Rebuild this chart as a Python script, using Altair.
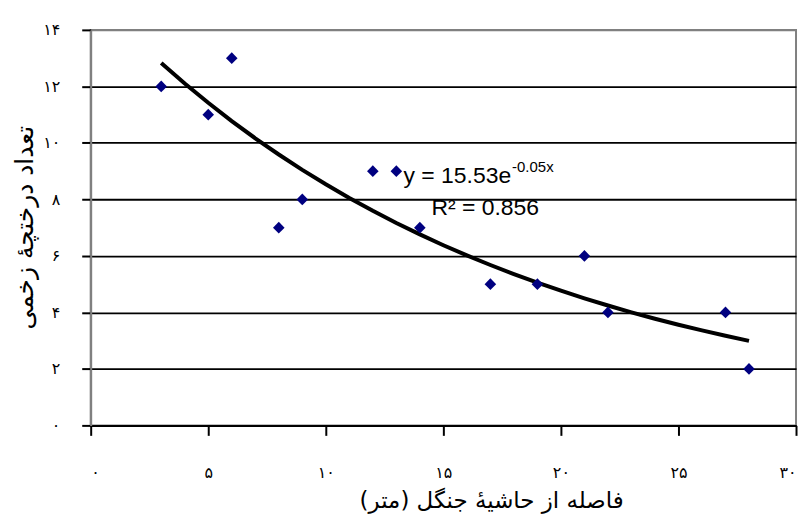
import altair as alt
import pandas as pd

# Data
distance = [3, 5, 6, 8, 9, 12, 13, 14, 17, 19, 21, 22, 27, 28]
shrubs = [12, 11, 13, 7, 8, 9, 9, 7, 5, 5, 6, 4, 4, 2]

x_tick_values = [0, 5, 10, 15, 20, 25, 30]
x_tick_labels = ["۰", "۵", "۱۰", "۱۵", "۲۰", "۲۵", "۳۰"]
y_tick_values = [0, 2, 4, 6, 8, 10, 12, 14]
y_tick_labels = ["۰", "۲", "۴", "۶", "۸", "۱۰", "۱۲", "۱۴"]

x_title = "فاصله از حاشیهٔ جنگل (متر)"
y_title = "تعداد درختچهٔ زخمی"
eq_main = "y = 15.53e"
eq_sup = "-0.05x"
eq_r2 = "R² = 0.856"

df = pd.DataFrame({"dist": distance, "trees": shrubs})


def label_expr(values, labels):
    vals = ",".join(str(v) for v in values)
    labs = ",".join("'" + l + "'" for l in labels)
    return f"[{labs}][indexof([{vals}], datum.value)]"


x_enc = alt.X(
    "dist:Q",
    scale=alt.Scale(domain=[0, 30], nice=False),
    axis=alt.Axis(
        values=x_tick_values,
        labelExpr=label_expr(x_tick_values, x_tick_labels),
        title=x_title,
        grid=False,
        domainColor="black",
        domainWidth=2,
        tickColor="black",
        tickWidth=2,
        tickSize=10,
        labelFont="DejaVu Sans",
        labelFontSize=16,
        labelColor="black",
        labelPadding=29,
        labelBaseline="top",
        titleFont="DejaVu Sans",
        titleFontSize=23,
        titleFontWeight="normal",
        titleColor="black",
        titleX=402,
        titleY=75,
        titleBaseline="middle",
        titleAlign="center",
    ),
)

y_enc = alt.Y(
    "trees:Q",
    scale=alt.Scale(domain=[0, 14], nice=False),
    axis=alt.Axis(
        values=y_tick_values,
        labelExpr=label_expr(y_tick_values, y_tick_labels),
        title=y_title,
        grid=True,
        gridColor=alt.condition("datum.value == 14", alt.value("#808080"), alt.value("black")),
        gridWidth=1.8,
        domainColor="#808080",
        domainWidth=2,
        tickColor="black",
        tickWidth=2,
        tickSize=9,
        labelFont="DejaVu Sans",
        labelFontSize=16,
        labelColor="black",
        labelPadding=22,
        labelAlign="right",
        labelBaseline="middle",
        titleFont="DejaVu Sans",
        titleFontSize=25,
        titleFontWeight="normal",
        titleColor="black",
        titleAngle=-90,
        titleX=-66,
        titleY=198,
        titleBaseline="middle",
        titleAlign="center",
    ),
)

base = alt.Chart(df)

points = base.mark_point(
    shape="diamond", filled=True, color="#000080", size=135, opacity=1
).encode(x=x_enc, y=y_enc)

trend = (
    base.transform_calculate(ln_y="log(datum.trees)")
    .transform_regression("dist", "ln_y", method="poly", order=1)
    .transform_calculate(trees="exp(datum.ln_y)")
    .mark_line(color="black", strokeWidth=4)
    .encode(x="dist:Q", y="trees:Q")
)

text_style = dict(font="Arial", fontWeight=400, align="left",
                  baseline="alphabetic", color="black")


def annotation(text, size, px, py):
    return (
        alt.Chart(pd.DataFrame({"label": [text]}))
        .mark_text(fontSize=size, **text_style)
        .encode(text="label:N", x=alt.value(px), y=alt.value(py))
    )


ann_main = annotation(eq_main, 23, 314, 154)
ann_sup = annotation(eq_sup, 15, 423, 143)
ann_r2 = annotation(eq_r2, 23, 342, 186)

chart = (
    alt.layer(trend, points, ann_main, ann_sup, ann_r2)
    .properties(
        width=708,
        height=397,
        autosize=alt.AutoSizeParams(type="none"),
        padding={"left": 83, "top": 21, "right": 5, "bottom": 92},
        background="white",
    )
    .configure_view(stroke="#808080", strokeWidth=2)
)

chart.save("out.html", embed_options={"renderer": "svg", "actions": False})
